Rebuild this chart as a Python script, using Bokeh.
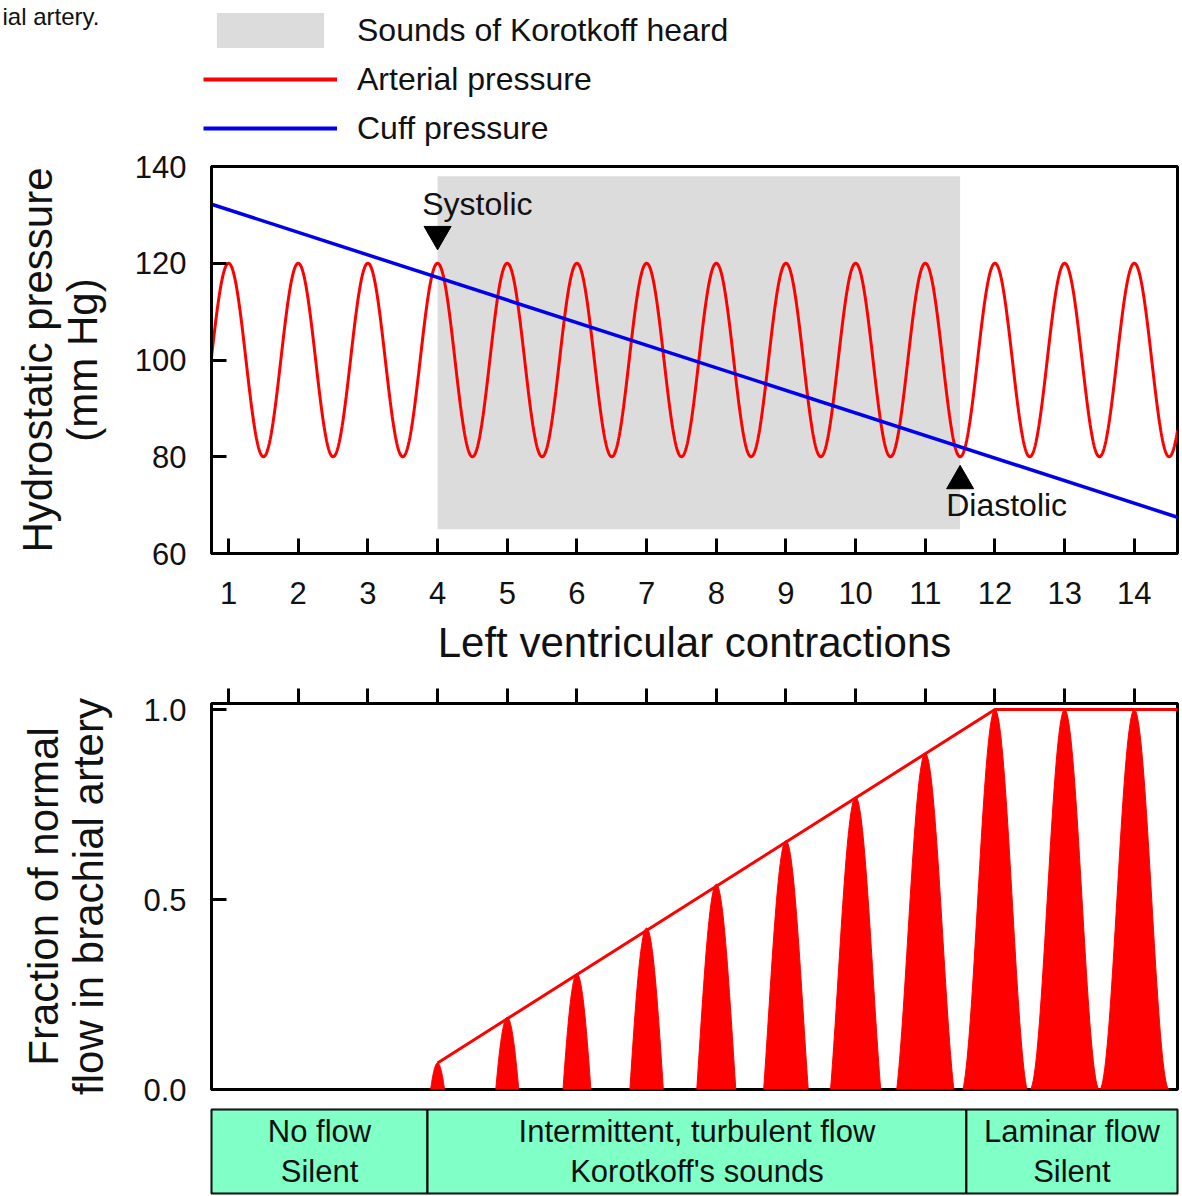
import numpy as np
from bokeh.plotting import figure
from bokeh.models import Range1d, FixedTicker, Legend, LegendItem, PrintfTickFormatter
from bokeh.layouts import column
from bokeh.core.properties import value
from bokeh.embed import file_html
from bokeh.resources import INLINE

FONT = "Liberation Sans"

# ---------------- data ----------------
beats = list(range(1, 15))                 # left ventricular contractions (systolic peaks)
x_start, x_end = 0.755, 14.62
systolic_peak = 120                         # mm Hg
diastolic_trough = 80                       # mm Hg
cuff_x = [0.755, 14.62]
cuff_y = [132.2, 67.5]
korotkoff_start, korotkoff_end = 4.0, 11.5
korotkoff_bottom, korotkoff_top = 65, 138
pressure_ticks = [60, 80, 100, 120, 140]

systolic_mark_x, systolic_mark_y = [4.0], [126.0]
diastolic_mark_x, diastolic_mark_y = [11.5], [75.0]
systolic_text_x, systolic_text_y = [3.78], [132.2]
diastolic_text_x, diastolic_text_y = [11.3], [70.1]

flow_beats = [4, 5, 6, 7, 8, 9, 10, 11, 12, 13, 14]
flow_peak = [0.07, 0.19, 0.305, 0.425, 0.54, 0.655, 0.77, 0.885, 1.0, 1.0, 1.0]
flow_width = [0.2, 0.33, 0.4, 0.48, 0.56, 0.64, 0.72, 0.82, 0.92, 1.0, 1.0]
envelope_x = [4.0, 12.0, 14.62]
envelope_y = [0.07, 1.0, 1.0]
flow_ticks = [0.0, 0.5, 1.0]

phase_left = [0.755, 3.855, 11.59]
phase_right = [3.855, 11.59, 14.62]
phase_text = ["No flow\nSilent",
              "Intermittent, turbulent flow\nKorotkoff's sounds",
              "Laminar flow\nSilent"]

legend_labels = ["Sounds of Korotkoff heard", "Arterial pressure", "Cuff pressure"]
caption_fragment = "ial artery."

RED = "#FF0000"
BLUE = "#0000EE"
GRAY = "#DCDCDC"
GREEN = "#80FFC6"
INK = "#111111"

xr = Range1d(x_start, x_end)


def style_axis(ax, size="31px"):
    ax.axis_line_width = 3
    ax.major_tick_line_width = 3
    ax.minor_tick_line_color = None
    ax.major_label_text_font = FONT
    ax.major_label_text_font_size = size
    ax.major_label_text_color = INK
    ax.axis_label_text_font = FONT
    ax.axis_label_text_font_size = "42px"
    ax.axis_label_text_font_style = "normal"
    ax.axis_label_text_color = INK
    ax.axis_label_text_line_height = 0.96


# ---------------- header (caption fragment + legend) ----------------
H_HEIGHT = 150
pH = figure(width=1182, height=H_HEIGHT, x_range=Range1d(0, 1182), y_range=Range1d(0, H_HEIGHT),
            output_backend="svg", toolbar_location=None,
            min_border=0, min_border_left=0, min_border_right=0, min_border_top=0, min_border_bottom=0)
pH.axis.visible = False
pH.grid.visible = False
pH.outline_line_color = None
pH.text([2], [H_HEIGHT - 2], text=[caption_fragment], text_font=value(FONT),
        text_font_size="24px", text_baseline="top", text_color=INK)
# legend swatches (styled like the plot renderers, placed outside the visible range)
k_band = pH.quad(left=[-50], right=[-40], bottom=[-50], top=[-40], fill_color=GRAY, line_color=None)
k_art = pH.line([-50, -40], [-50, -50], line_color=RED, line_width=4)
k_cuff = pH.line([-50, -40], [-60, -60], line_color=BLUE, line_width=4)
legend = Legend(items=[LegendItem(label=legend_labels[0], renderers=[k_band]),
                       LegendItem(label=legend_labels[1], renderers=[k_art]),
                       LegendItem(label=legend_labels[2], renderers=[k_cuff])],
                location=(203, 0), glyph_width=134, glyph_height=44, spacing=5,
                padding=0, margin=0, label_standoff=20,
                label_text_font=FONT, label_text_font_size="32px", label_text_color=INK,
                border_line_color=None, background_fill_alpha=0)
pH.add_layout(legend)

# ---------------- top plot ----------------
pA = figure(frame_width=966, frame_height=387, x_range=xr, y_range=Range1d(60, 140),
            output_backend="svg", toolbar_location=None,
            min_border_left=211, min_border_right=5, min_border_top=16, min_border_bottom=119)
pA.xgrid.grid_line_color = None
pA.ygrid.grid_line_color = None
pA.outline_line_color = "black"
pA.outline_line_width = 3

pA.quad(left=[korotkoff_start], right=[korotkoff_end], bottom=[korotkoff_bottom],
        top=[korotkoff_top], fill_color=GRAY, line_color=None)

t = np.linspace(x_start, x_end, 3000)
b = np.array(beats)
nearest = b[np.abs(t[:, None] - b[None, :]).argmin(axis=1)]
mid = (systolic_peak + diastolic_trough) / 2
amp = (systolic_peak - diastolic_trough) / 2
pA.line(t, mid + amp * np.cos(2 * np.pi * (t - nearest)), line_color=RED, line_width=3)
pA.line(cuff_x, cuff_y, line_color=BLUE, line_width=3.5)

pA.scatter(systolic_mark_x, systolic_mark_y, marker="inverted_triangle", size=27, color="black")
pA.scatter(diastolic_mark_x, diastolic_mark_y, marker="triangle", size=27, color="black")
pA.text(systolic_text_x, systolic_text_y, text=["Systolic"], text_font=value(FONT),
        text_font_size="32px", text_baseline="alphabetic", text_color=INK)
pA.text(diastolic_text_x, diastolic_text_y, text=["Diastolic"], text_font=value(FONT),
        text_font_size="32px", text_baseline="alphabetic", text_color=INK)

pA.xaxis.ticker = FixedTicker(ticks=beats)
pA.yaxis.ticker = FixedTicker(ticks=pressure_ticks)
for ax in (pA.xaxis[0], pA.yaxis[0]):
    style_axis(ax)
    ax.major_tick_in = 15
    ax.major_tick_out = 0
pA.xaxis.major_label_standoff = 28
pA.yaxis.major_label_standoff = 25
pA.xaxis.axis_label = "Left ventricular contractions"
pA.xaxis.axis_label_standoff = 12
pA.yaxis.axis_label = "Hydrostatic pressure\n(mm Hg)"
pA.yaxis.axis_label_standoff = 26

# ---------------- bottom plot ----------------
pB = figure(frame_width=966, frame_height=386, x_range=xr, y_range=Range1d(0, 1.016),
            x_axis_location="above", output_backend="svg", toolbar_location=None,
            min_border_left=211, min_border_right=5, min_border_top=31, min_border_bottom=19)
pB.xgrid.grid_line_color = None
pB.ygrid.grid_line_color = None
pB.outline_line_color = "black"
pB.outline_line_width = 3

xs, ys = [], []
for k, h, w in zip(flow_beats, flow_peak, flow_width):
    dx = np.linspace(-w / 2, w / 2, 81)
    c = np.cos(np.pi * w)
    xs.append(list(k + dx))
    ys.append(list(h * (np.cos(2 * np.pi * dx) - c) / (1 - c)))
pB.patches(xs, ys, fill_color=RED, line_color=RED, line_width=1)
pB.line(envelope_x, envelope_y, line_color=RED, line_width=3)

pB.xaxis.ticker = FixedTicker(ticks=beats)
pB.xaxis.major_label_overrides = {k: "" for k in beats}
pB.yaxis.ticker = FixedTicker(ticks=flow_ticks)
pB.yaxis.formatter = PrintfTickFormatter(format="%.1f")
style_axis(pB.xaxis[0])
style_axis(pB.yaxis[0])
pB.xaxis.major_tick_in = 0
pB.xaxis.major_tick_out = 15
pB.xaxis.major_label_standoff = 0
pB.yaxis.major_tick_in = 15
pB.yaxis.major_tick_out = 0
pB.yaxis.major_label_standoff = 25
pB.yaxis.axis_label = "Fraction of normal\nflow in brachial artery"
pB.yaxis.axis_label_standoff = 28

# ---------------- phase table ----------------
pC = figure(frame_width=966, frame_height=84, x_range=xr, y_range=Range1d(0, 1),
            output_backend="svg", toolbar_location=None,
            min_border_left=211, min_border_right=5, min_border_top=1, min_border_bottom=3)
pC.axis.visible = False
pC.grid.visible = False
pC.outline_line_color = "black"
pC.outline_line_width = 2
pC.quad(left=phase_left, right=phase_right, bottom=0, top=1,
        fill_color=GREEN, line_color="black", line_width=2)
centers = [(l + r) / 2 for l, r in zip(phase_left, phase_right)]
pC.text(centers, [0.5] * 3, text=phase_text, text_font=value(FONT), text_font_size="31px",
        text_align="center", text_baseline="middle", text_line_height=1.12, text_color=INK)

layout = column(pA, pB, pC, spacing=0)
open("out.html", "w").write(file_html([pH, layout], INLINE))
